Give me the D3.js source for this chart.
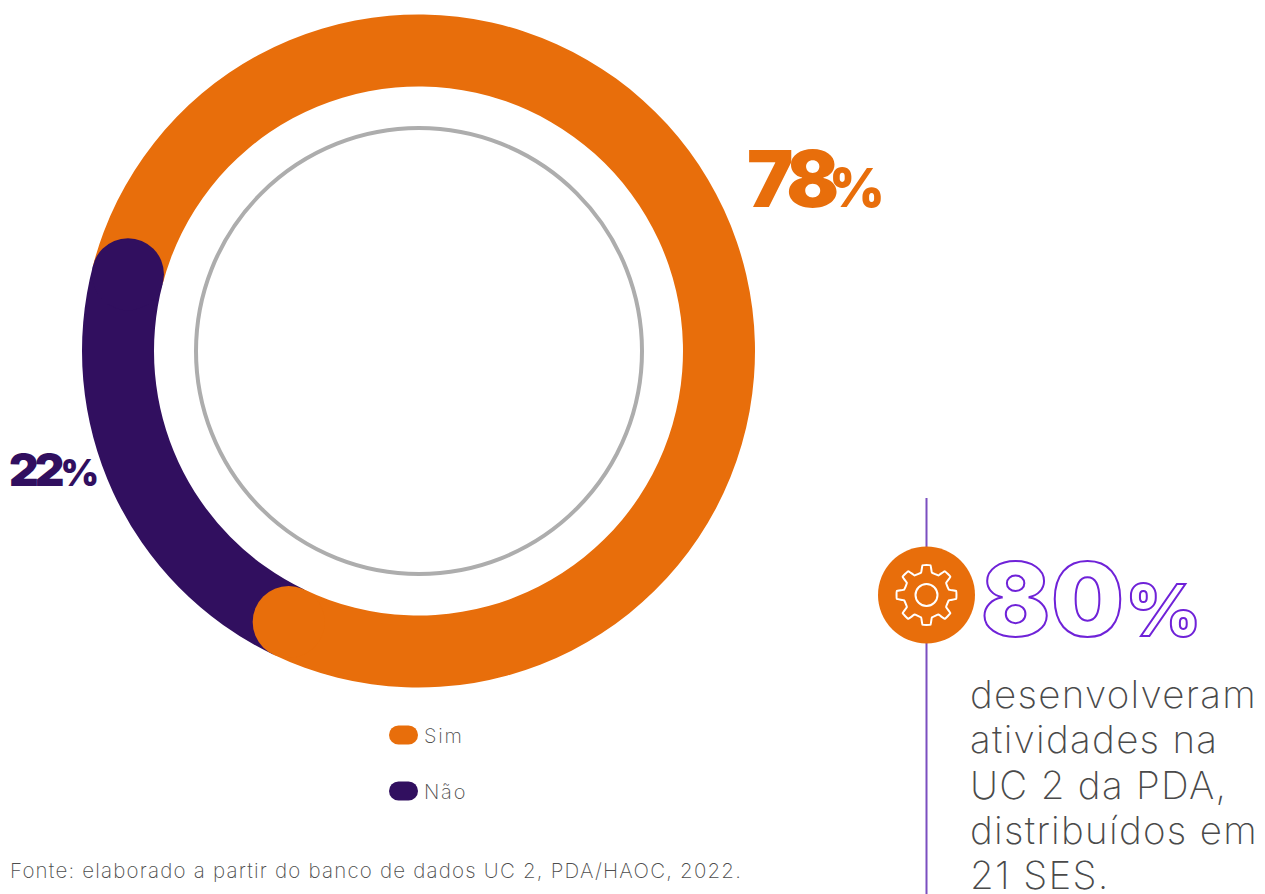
<!DOCTYPE html>
<html lang="pt">
<head>
<meta charset="utf-8">
<script src="https://cdnjs.cloudflare.com/ajax/libs/d3/7.8.5/d3.min.js"></script>
<style>
  html, body { margin: 0; padding: 0; background: #fff; overflow: hidden; }
  svg { display: block; }
  text { font-family: "Inter", "Lato", sans-serif; }
</style>
</head>
<body>
<svg id="chart" width="1265" height="894"></svg>
<script>
const categories = ["Sim", "Não"];
const shares = [78, 22];
const shareLabels = ["78", "22"];
const sliceColors = ["#e86e0b", "#310f5f"];
const highlightValue = "80";
const highlightLines = ["desenvolveram", "atividades na", "UC 2 da PDA,", "distribuídos em", "21 SES."];
const sourceNote = "Fonte: elaborado a partir do banco de dados UC 2, PDA/HAOC, 2022.";

const svg = d3.select("#chart");
const cx = 418.5, cy = 351, outer = 336.5, inner = 264.5;
const toRad = d => d * Math.PI / 180;
const color = d3.scaleOrdinal(categories, sliceColors);

// Ring: each slice ends in a rounded cap that overlaps the start of the next one.
const pie = d3.pie().sort(null).startAngle(toRad(284.8)).endAngle(toRad(284.8 + 360));
const slices = pie(shares).map((s, i) => ({ ...s, name: categories[i] }));
const arc = d3.arc().innerRadius(inner).outerRadius(outer);
const ring = svg.append("g").attr("transform", `translate(${cx},${cy})`);

ring.selectAll("path.slice").data(slices).join("path")
  .attr("class", "slice")
  .attr("d", arc)
  .attr("fill", d => color(d.name));

ring.selectAll("circle.cap").data(slices).join("circle")
  .attr("class", "cap")
  .attr("transform", d => `translate(${d3.pointRadial(d.endAngle, (inner + outer) / 2)})`)
  .attr("r", (outer - inner) / 2)
  .attr("fill", d => color(d.name));

// Thin grey circle inside the ring
ring.append("circle").attr("cx", 0.5).attr("r", 223).attr("fill", "none")
  .attr("stroke", "#adadad").attr("stroke-width", 4);

// Percentage labels
const labelSpots = [
  { x: 747, y: 207, size: 78, pct: 53, ls: -6, dx: -4 },
  { x: 9, y: 485.5, size: 46, pct: 37, ls: -4, dx: 0 }
];
labelSpots.forEach((p, i) => {
  const t = svg.append("text").attr("x", p.x).attr("y", p.y)
    .attr("fill", sliceColors[i]).attr("font-weight", 900)
    .attr("font-size", p.size).attr("letter-spacing", p.ls);
  t.append("tspan").text(shareLabels[i]);
  t.append("tspan").attr("font-size", p.pct).attr("letter-spacing", 0).attr("dx", p.dx).text("%");
});

// Legend
categories.forEach((c, i) => {
  const y = 735 + i * 56;
  svg.append("rect").attr("x", 389).attr("y", y - 9.5).attr("width", 29).attr("height", 19)
    .attr("rx", 9.5).attr("fill", sliceColors[i]);
  svg.append("text").attr("x", 424).attr("y", y + 8).attr("font-size", 20)
    .attr("font-weight", 200).attr("letter-spacing", 1.8).attr("fill", "#4d4d4d").text(c);
});

// Source note
svg.append("text").attr("x", 10).attr("y", 878).attr("font-size", 20.5)
  .attr("font-weight", 200).attr("letter-spacing", 1.2).attr("fill", "#4d4d4d").text(sourceNote);

// Side callout: vertical rule, gear badge, outlined number and description
svg.append("line").attr("x1", 926.5).attr("x2", 926.5).attr("y1", 498).attr("y2", 894)
  .attr("stroke", "#7b4fc0").attr("stroke-width", 2);
svg.append("circle").attr("cx", 926.5).attr("cy", 595).attr("r", 48.5).attr("fill", "#e86e0b");

// Gear outline built from eight teeth around the hub
const gear = svg.append("g").attr("transform", "translate(926.5,595)");
const teeth = 8, rOut = 30, rIn = 23;
const gearPts = [];
d3.range(teeth).forEach(k => {
  const a = k * 2 * Math.PI / teeth, w = 2 * Math.PI / teeth;
  gearPts.push(d3.pointRadial(a - w * 0.30, rIn));
  gearPts.push(d3.pointRadial(a - w * 0.17, rOut));
  gearPts.push(d3.pointRadial(a + w * 0.17, rOut));
  gearPts.push(d3.pointRadial(a + w * 0.30, rIn));
});
gear.append("path").attr("d", d3.line().curve(d3.curveCardinalClosed.tension(0.75))(gearPts))
  .attr("fill", "none").attr("stroke", "#fff").attr("stroke-width", 2).attr("stroke-linejoin", "round");
gear.append("circle").attr("r", 11).attr("fill", "none").attr("stroke", "#fff").attr("stroke-width", 2);

const big = svg.append("text").attr("x", 981).attr("y", 635.5)
  .attr("fill", "#fff").attr("stroke", "#6f22d8").attr("stroke-width", 2)
  .attr("font-weight", 900).attr("font-size", 102).attr("letter-spacing", 1);
big.append("tspan").text(highlightValue);
big.append("tspan").attr("font-size", 72).attr("letter-spacing", 0).attr("dx", 1).text("%");

svg.selectAll("text.desc").data(highlightLines).join("text")
  .attr("class", "desc")
  .attr("x", 970).attr("y", (d, i) => 708 + i * 45.3)
  .attr("font-size", 38.5).attr("font-weight", 200).attr("letter-spacing", 1.3).attr("fill", "#4a4a4a")
  .text(d => d);
</script>
</body>
</html>
